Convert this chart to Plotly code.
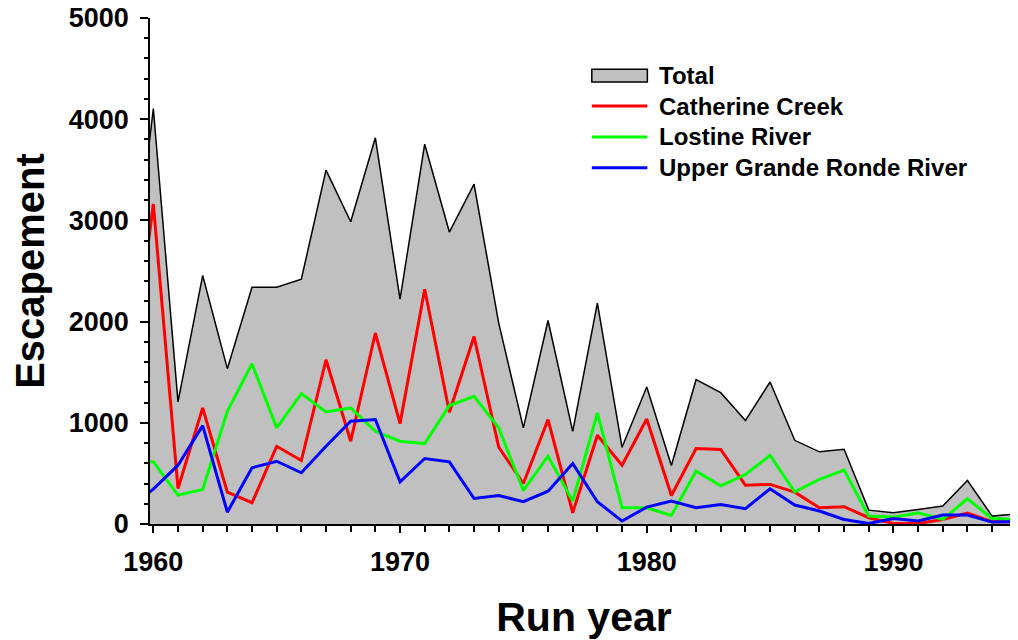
import plotly.graph_objects as go

# Run years (1959 sits just left of the visible axis start)
years = list(range(1959, 1996))

total = [2030, 4105, 1206, 2455, 1535, 2340, 2340, 2419, 3497, 2987,
         3816, 2222, 3753, 2885, 3359, 1985, 950, 2011, 916, 2182,
         758, 1354, 578, 1426, 1298, 1022, 1403, 827, 713, 739,
         137, 111, 144, 177, 430, 78, 100]
catherine = [1258, 3162, 351, 1147, 315, 210, 768, 627, 1623, 818,
             1887, 992, 2320, 1104, 1853, 759, 400, 1032, 111, 877,
             581, 1038, 282, 746, 736, 384, 391, 315, 161, 171,
             62, 5, 5, 45, 107, 22, 22]
lostine = [614, 614, 285, 341, 1114, 1584, 950, 1288, 1107, 1147,
           916, 818, 795, 1170, 1261, 950, 331, 670, 226, 1097,
           161, 161, 85, 522, 378, 489, 677, 318, 440, 532,
           78, 68, 111, 45, 249, 55, 45]
upper_gr = [160, 345, 581, 972, 117, 555, 620, 506, 768, 1015,
            1032, 417, 647, 614, 252, 282, 220, 324, 598, 220,
            29, 167, 226, 161, 193, 151, 348, 187, 128, 45,
            5, 55, 29, 88, 88, 19, 22]

FONT = "Liberation Sans, Arial, sans-serif"

fig = go.Figure()
fig.add_trace(go.Scatter(x=years, y=total, name="Total", mode="lines",
                         fill="tozeroy", fillcolor="#C0C0C0",
                         line=dict(color="black", width=1.5)))
fig.add_trace(go.Scatter(x=years, y=catherine, name="Catherine Creek", mode="lines",
                         line=dict(color="#FF0000", width=3)))
fig.add_trace(go.Scatter(x=years, y=lostine, name="Lostine River", mode="lines",
                         line=dict(color="#00FF00", width=3)))
fig.add_trace(go.Scatter(x=years, y=upper_gr, name="Upper Grande Ronde River", mode="lines",
                         line=dict(color="#0000FF", width=3)))

# hand-drawn legend (wider swatches than plotly's built-in one)
legend_rows = [("Total", None, 0.886), ("Catherine Creek", "#FF0000", 0.826),
               ("Lostine River", "#00FF00", 0.765), ("Upper Grande Ronde River", "#0000FF", 0.704)]
for label, color, yy in legend_rows:
    if color is None:
        fig.add_shape(type="rect", xref="paper", yref="paper",
                      x0=0.509, x1=0.573, y0=yy - 0.0125, y1=yy + 0.0125,
                      fillcolor="#C0C0C0", line=dict(color="black", width=1.5))
    else:
        fig.add_shape(type="line", xref="paper", yref="paper",
                      x0=0.509, x1=0.573, y0=yy, y1=yy,
                      line=dict(color=color, width=3))
    fig.add_annotation(x=0.584, y=yy, xref="paper", yref="paper", text=label,
                       showarrow=False, xanchor="left", yanchor="middle",
                       font=dict(family=FONT, size=24, color="black", weight="bold"))

# the page body adds an 8px offset, so margins are shifted to compensate
fig.update_layout(
    width=1018, height=640,
    margin=dict(l=142, r=8, t=10, b=124, autoexpand=False),
    plot_bgcolor="white", paper_bgcolor="white",
    showlegend=False,
    font=dict(family=FONT, color="black"),
)
fig.update_xaxes(
    range=[1959.865, 1995.05], tickmode="linear", tick0=1960, dtick=10,
    ticks="outside", ticklen=7, tickwidth=1.5, tickcolor="black",
    minor=dict(dtick=1, ticks="outside", ticklen=6, tickwidth=1.5, tickcolor="black"),
    showline=True, linecolor="black", linewidth=1.5, showgrid=False, zeroline=False,
    tickfont=dict(family=FONT, size=27, weight="bold"), ticklabelstandoff=6,
    automargin=False, ticklabeloverflow="allow",
    title=dict(text="Run year", font=dict(family=FONT, size=41, weight="bold"), standoff=26),
)
fig.update_yaxes(
    range=[0, 5000], tickmode="linear", tick0=0, dtick=1000,
    ticks="outside", ticklen=8, tickwidth=1.5, tickcolor="black",
    minor=dict(dtick=200, ticks="outside", ticklen=4, tickwidth=1.5, tickcolor="black"),
    showline=True, linecolor="black", linewidth=1.5, showgrid=False, zeroline=False,
    tickfont=dict(family=FONT, size=27, weight="bold"), ticklabelstandoff=6,
    automargin=False, ticklabeloverflow="allow",
    title=dict(text="Escapement", font=dict(family=FONT, size=40, weight="bold"), standoff=19),
)

fig.write_html("out.html")
